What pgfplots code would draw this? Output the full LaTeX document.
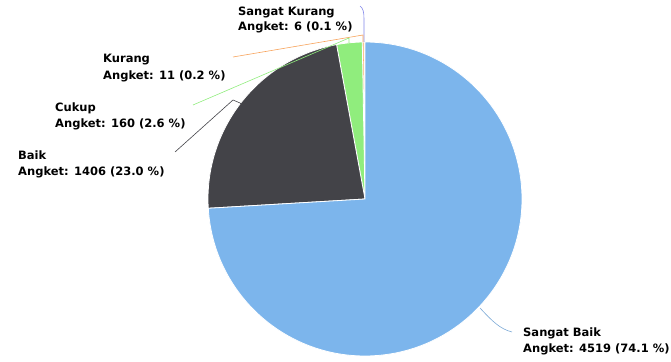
\documentclass[border=0pt]{standalone}
\usepackage{pgfplots}
\usepackage{pgfplotstable}
\pgfplotsset{compat=1.18}
\usepackage{fontspec}
\setmainfont{DejaVu Sans}
\definecolor{c0}{HTML}{8085E9}
\definecolor{c1}{HTML}{F7A35C}
\definecolor{c2}{HTML}{90ED7D}
\definecolor{c3}{HTML}{434348}
\definecolor{c4}{HTML}{7CB5EC}

\pgfplotstableread{
name value
SangatKurang 6
Kurang 11
Cukup 160
Baik 1406
SangatBaik 4519
}\piedata

\begin{document}
\begin{tikzpicture}
\gdef\pietotal{0}
\foreach \i in {0,...,4}{%
  \pgfplotstablegetelem{\i}{value}\of\piedata
  \pgfmathsetmacro{\tmpT}{\pietotal+\pgfplotsretval}%
  \global\let\pietotal\tmpT
}
\gdef\piecum{0}
\foreach \i in {0,...,4}{%
  \pgfplotstablegetelem{\i}{value}\of\piedata
  \pgfmathsetmacro{\tmpS}{90+(\piecum/\pietotal)*360}%
  \pgfmathsetmacro{\tmpC}{\piecum+\pgfplotsretval}%
  \pgfmathsetmacro{\tmpE}{90+(\tmpC/\pietotal)*360}%
  \expandafter\xdef\csname sa\i\endcsname{\tmpS}%
  \expandafter\xdef\csname ea\i\endcsname{\tmpE}%
  \global\let\piecum\tmpC
}
\begin{axis}[
  x=1pt, y=1pt,
  xmin=0, xmax=671, ymin=0, ymax=359,
  hide axis, clip=false,
  anchor=origin, at={(0,0)},
]
\path (axis cs:0,0) rectangle (axis cs:671,359);
\pgfplotsinvokeforeach{0,...,4}{%
  \edef\temp{\noexpand\fill[c#1, draw=white, line width=0.8pt]
    (axis cs:365,160) -- ++(\csname sa#1\endcsname:157pt)
    arc[start angle=\csname sa#1\endcsname, end angle=\csname ea#1\endcsname, radius=157pt] -- cycle;}%
  \temp
}
% connector lines
\draw[c0, line width=0.6pt] (axis cs:360,353) .. controls (axis cs:363,351) and (axis cs:364,347) .. (axis cs:364,340) -- (axis cs:364,317);
\draw[c1, line width=0.6pt] (axis cs:233,302) -- (axis cs:363,324) -- (axis cs:363,317);
\draw[c2, line width=0.6pt] (axis cs:193,254) -- (axis cs:349,321) -- (axis cs:349,316);
\draw[c3, line width=0.6pt] (axis cs:175,207) -- (axis cs:233,259) -- (axis cs:240,256) -- (axis cs:245,252);
\draw[c4!80!gray, line width=0.6pt] (axis cs:480,51) .. controls (axis cs:492,38) and (axis cs:500,30) .. (axis cs:512,27);
% labels
\tikzset{lab/.style={anchor=base west, inner sep=0pt, font=\bfseries\fontsize{11.5}{14}\selectfont, text=black}}
\node[lab] at (axis cs:238,343) {Sangat Kurang};
\node[lab] at (axis cs:238,328) {Angket: 6 (0.1 \%)};
\node[lab] at (axis cs:103,296) {Kurang};
\node[lab] at (axis cs:103,279) {Angket: 11 (0.2 \%)};
\node[lab] at (axis cs:55,247) {Cukup};
\node[lab] at (axis cs:55,231) {Angket: 160 (2.6 \%)};
\node[lab] at (axis cs:18,199) {Baik};
\node[lab] at (axis cs:18,183) {Angket: 1406 (23.0 \%)};
\node[lab] at (axis cs:523,22) {Sangat Baik};
\node[lab] at (axis cs:523,6) {Angket: 4519 (74.1 \%)};
\end{axis}
\end{tikzpicture}
\end{document}
